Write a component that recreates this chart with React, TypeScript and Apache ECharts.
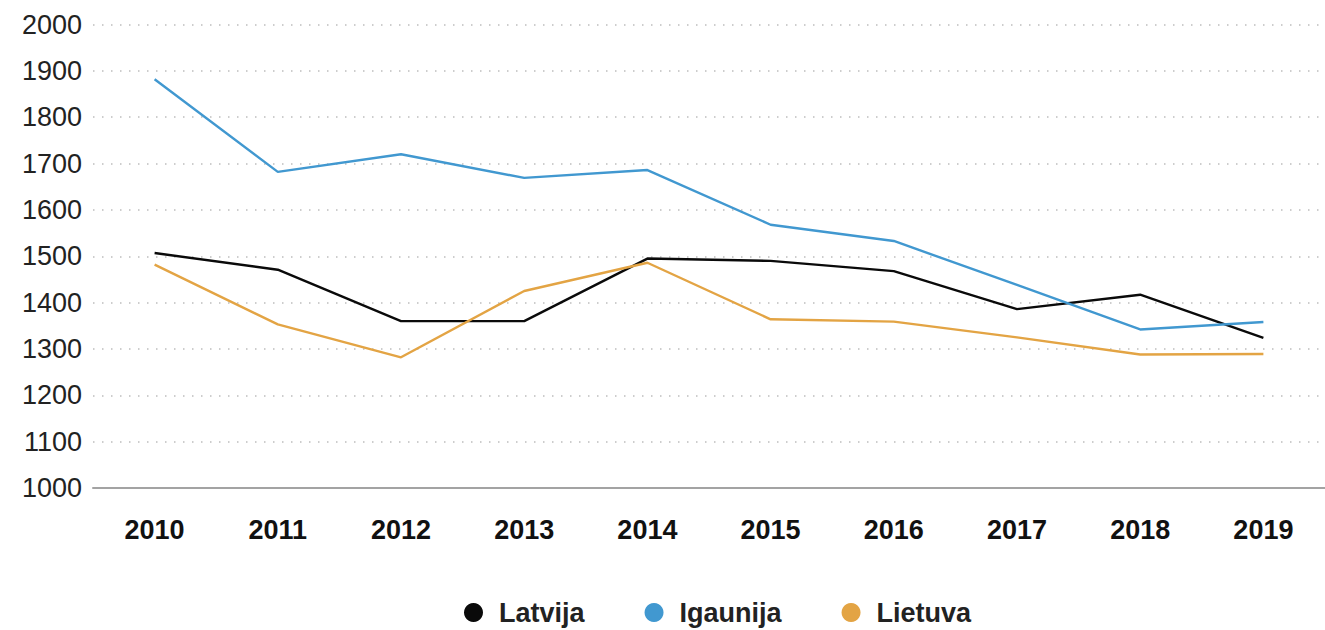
import React, { useEffect, useRef } from "react";
import * as echarts from "echarts";

const years = ["2010", "2011", "2012", "2013", "2014", "2015", "2016", "2017", "2018", "2019"];
const latvija = [1507, 1471, 1360, 1360, 1495, 1490, 1468, 1386, 1417, 1324];
const igaunija = [1882, 1682, 1720, 1669, 1686, 1568, 1533, 1438, 1342, 1358];
const lietuva = [1482, 1353, 1282, 1425, 1486, 1364, 1359, 1325, 1288, 1289];

const seriesNames = ["Latvija", "Igaunija", "Lietuva"];
const seriesColors = ["#0a0a0a", "#4198d0", "#e3a444"];

export default function App() {
  const ref = useRef<HTMLDivElement>(null);
  useEffect(() => {
    document.body.style.margin = "0";
    const chart = echarts.init(ref.current!, undefined, { renderer: "svg" });
    const font = "'Liberation Sans', Arial, Helvetica, sans-serif";
    const data = [latvija, igaunija, lietuva];
    chart.setOption({
      animation: false,
      textStyle: { fontFamily: font },
      grid: { left: 93, right: -9, top: 24.5, bottom: 142 },
      legend: {
        top: 594,
        left: 459,
        icon: "circle",
        itemWidth: 19,
        itemHeight: 19,
        itemGap: 60,
        data: seriesNames,
        textStyle: {
          fontFamily: font,
          fontSize: 27,
          fontWeight: "bold",
          color: "#222",
          padding: [0, 0, 0, 11],
        },
      },
      xAxis: {
        type: "category",
        data: years,
        boundaryGap: true,
        axisLine: { show: true, lineStyle: { color: "#a3a3a3", width: 2 } },
        axisTick: { show: false },
        axisLabel: {
          fontFamily: font,
          fontSize: 27,
          fontWeight: "bold",
          color: "#111",
          margin: 28,
        },
      },
      yAxis: {
        type: "value",
        min: 1000,
        max: 2000,
        interval: 100,
        axisLine: { show: false },
        axisTick: { show: false },
        axisLabel: {
          fontFamily: font,
          fontSize: 27,
          color: "#222",
          margin: 11,
          formatter: (v: number) => String(v),
        },
        splitLine: {
          show: true,
          lineStyle: { color: "#bdbdbd", type: [1.5, 7.5], width: 1.5 },
        },
      },
      series: data.map((d, i) => ({
        name: seriesNames[i],
        type: "line",
        data: d,
        showSymbol: false,
        symbol: "circle",
        color: seriesColors[i],
        lineStyle: { width: 2.4, color: seriesColors[i] },
      })),
    });
    return () => chart.dispose();
  }, []);
  return <div ref={ref} style={{ width: 1325, height: 630 }} />;
}
